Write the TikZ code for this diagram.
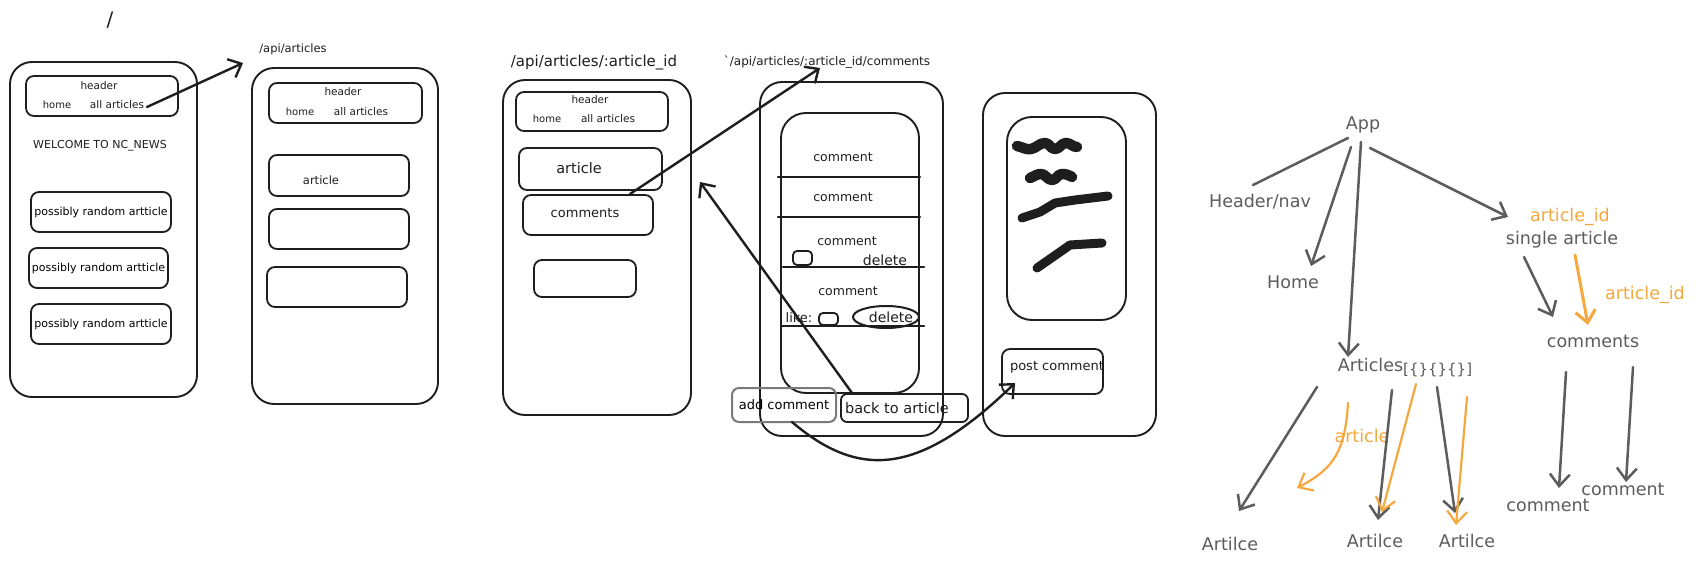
\documentclass[tikz,border=0pt]{standalone}
\usepackage{fontspec}
\setmainfont{DejaVu Sans}
\usetikzlibrary{arrows.meta}
\definecolor{ink}{HTML}{1E1E1E}
\definecolor{tg}{HTML}{5C5C5C}
\definecolor{org}{HTML}{F4A83E}
\definecolor{boxgray}{HTML}{7A7A7A}
\newcommand\fsz[1]{\fontsize{#1}{#1}\selectfont}
\begin{document}
\begin{tikzpicture}[x=1pt,y=-1pt,line cap=round,line join=round,
  phone/.style={draw=ink,line width=1.9,rounded corners=22,inner sep=0},
  box/.style={draw=ink,line width=1.8,rounded corners=8,inner sep=0},
  lbl/.style={text=ink,inner sep=0},
  tl/.style={text=tg,inner sep=0,font=\fsz{17.5}},
  ol/.style={text=org,inner sep=0,font=\fsz{17.5}},
  arr/.style={draw=ink,line width=2.4,-{Straight Barb[length=11pt,width=20pt]}},
  tarr/.style={draw=tg,line width=2.5,-{Straight Barb[length=12pt,width=20pt]}},
  tline/.style={draw=tg,line width=2.5},
  oarr/.style={draw=org,line width=2.2,-{Straight Barb[length=12pt,width=20pt]}},
  scrib/.style={draw=ink,line width=10.5,line cap=round,line join=round}]
\useasboundingbox[fill=white] (0,0) rectangle (1708,567);

% ---------- page 1: /
\node[lbl,font=\fsz{20}] (route1) at (110,20) {/};
\node[phone,minimum width=187,minimum height=335] (p1) at (103.5,229.5) {};
\node[box,minimum width=152,minimum height=40] (h1) at (102,96) {};
\node[lbl,font=\fsz{10.5}] (h1t) at (99,86) {header};
\node[lbl,font=\fsz{10}] (h1home) at (57,105) {home};
\node[lbl,font=\fsz{10.5}] (h1all) at (117,105) {all articles};
\node[lbl,font=\fsz{11}] (welcome) at (100,146) {WELCOME TO NC\_NEWS};
\node[box,minimum width=140,minimum height=40,font=\fsz{11}] (r1) at (101,212) {possibly random artticle};
\node[box,minimum width=139,minimum height=40,font=\fsz{11}] (r2) at (98.5,268) {possibly random artticle};
\node[box,minimum width=140,minimum height=40,font=\fsz{11}] (r3) at (101,324) {possibly random artticle};

% ---------- page 2: /api/articles
\node[lbl,font=\fsz{11.5}] (route2) at (293,49) {/api/articles};
\node[phone,minimum width=186,minimum height=336] (p2) at (345,236) {};
\node[box,minimum width=153,minimum height=40] (h2) at (345.5,103) {};
\node[lbl,font=\fsz{10.5}] (h2t) at (343,92) {header};
\node[lbl,font=\fsz{10}] (h2home) at (300,112) {home};
\node[lbl,font=\fsz{10.5}] (h2all) at (361,112) {all articles};
\node[box,minimum width=140,minimum height=41] (a2) at (339,175.5) {};
\node[lbl,font=\fsz{11.5}] (a2t) at (321,180) {article};
\node[box,minimum width=140,minimum height=40] (b2) at (339,229) {};
\node[box,minimum width=140,minimum height=40] (c2) at (337,287) {};

% ---------- page 3: /api/articles/:article_id
\node[lbl,font=\fsz{15}] (route3) at (594,63) {/api/articles/:article\_id};
\node[phone,minimum width=188,minimum height=335] (p3) at (597,247.5) {};
\node[box,minimum width=152,minimum height=39] (h3) at (592,111.5) {};
\node[lbl,font=\fsz{10.5}] (h3t) at (590,100) {header};
\node[lbl,font=\fsz{10}] (h3home) at (547,119) {home};
\node[lbl,font=\fsz{10.5}] (h3all) at (608,119) {all articles};
\node[box,minimum width=143,minimum height=42] (a3) at (590.5,169) {};
\node[lbl,font=\fsz{14.5}] (a3t) at (579,168) {article};
\node[box,minimum width=130,minimum height=40] (cm3) at (588,215) {};
\node[lbl,font=\fsz{13}] (cm3t) at (585,213) {comments};
\node[box,minimum width=102,minimum height=37] (e3) at (585,278.5) {};

% ---------- page 4: comments
\node[lbl,font=\fsz{12}] (route4) at (827,62) {\textasciigrave/api/articles/:article\_id/comments};
\node[phone,minimum width=183,minimum height=354] (p4) at (851.5,259) {};
\node[phone,rounded corners=25,minimum width=138,minimum height=280] (in4) at (850,253) {};
\coordinate (l1a) at (778,177); \coordinate (l1b) at (920,177);
\coordinate (l2a) at (778,217); \coordinate (l2b) at (920,217);
\coordinate (l3a) at (783,267); \coordinate (l3b) at (924,267);
\coordinate (l4a) at (782,326); \coordinate (l4b) at (924,326);
\draw[ink,line width=2.2] (l1a) -- (l1b);
\draw[ink,line width=2.2] (l2a) -- (l2b);
\draw[ink,line width=2.2] (l3a) -- (l3b);
\draw[ink,line width=2.2] (l4a) -- (l4b);
\node[lbl,font=\fsz{12.5}] (c41) at (843,157) {comment};
\node[lbl,font=\fsz{12.5}] (c42) at (843,197) {comment};
\node[lbl,font=\fsz{12.5}] (c43) at (847,241) {comment};
\node[lbl,font=\fsz{12.5}] (c44) at (848,291) {comment};
\node[box,rounded corners=4,minimum width=19,minimum height=14] (cb1) at (802.5,258) {};
\node[lbl,font=\fsz{14}] (del1) at (885,260) {delete};
\node[lbl,font=\fsz{13}] (like) at (799,318) {like:};
\node[box,rounded corners=4,minimum width=19,minimum height=12] (cb2) at (828.5,319) {};
\draw[ink,line width=2] (886,317) ellipse [x radius=33,y radius=11];
\node[lbl,font=\fsz{14}] (del2) at (891,317) {delete};
\node[draw=boxgray,line width=2,rounded corners=7,minimum width=104,minimum height=34,inner sep=0,font=\fsz{13}] (add) at (784,405) {add comment};
\node[box,rounded corners=6,minimum width=127,minimum height=28] (back) at (904.5,408) {};
\node[lbl,font=\fsz{14.5}] (backt) at (897,408) {back to article};

% ---------- page 5: post comment
\node[phone,minimum width=173,minimum height=343] (p5) at (1069.5,264.5) {};
\node[phone,rounded corners=25,minimum width=119,minimum height=203] (in5) at (1066.5,218.5) {};
\draw[scrib] (1017,146) to[out=-10,in=190] (1031,149) to[out=10,in=180] (1045,143) to[out=0,in=180] (1055,149) to[out=0,in=180] (1066,143) to[out=0,in=180] (1077,147);
\draw[scrib] (1030,178) to[out=20,in=180] (1041,174) to[out=0,in=180] (1052,180) to[out=0,in=180] (1062,174) to[out=0,in=150] (1072,177);
\draw[scrib,line width=9] (1022,218) -- (1040,212) -- (1055,203) -- (1075,200) -- (1108,196);
\draw[scrib,line width=9] (1037,268) -- (1070,245) -- (1102,243);
\node[box,minimum width=101,minimum height=45] (post) at (1052.5,371.5) {};
\node[lbl,font=\fsz{13}] (postt) at (1057,367) {post comment};

% ---------- page connectors
\coordinate (s1) at (147,107); \coordinate (e1) at (243,63);
\draw[arr] (s1) -- (e1);
\coordinate (s2) at (630,194); \coordinate (e2) at (820,68);
\draw[arr] (s2) -- (e2);
\coordinate (s3) at (852,393); \coordinate (e3b) at (700,182);
\draw[arr] (s3) -- (e3b);
\coordinate (s4) at (792,422); \coordinate (e4) at (1015,383);
\draw[arr] (s4) .. controls (860,480) and (920,475) .. (e4);

% ---------- component tree
\node[tl] (app) at (1363,125) {App};
\node[tl] (hnav) at (1260,202) {Header/nav};
\node[tl] (home) at (1293,282) {Home};
\node[tl] (arts) at (1405,368) {Articles\raisebox{-3pt}{\fsz{15}[\{\}\{\}\{\}]}};
\node[ol] (aid1) at (1570,217) {article\_id};
\node[tl] (single) at (1562,240) {single article};
\node[ol] (aid2) at (1645,295) {article\_id};
\node[tl] (cmts) at (1593,341) {comments};
\node[tl] (cmt1) at (1548,505) {comment};
\node[tl] (cmt2) at (1623,489) {comment};
\node[tl] (art1) at (1230,544) {Artilce};
\node[tl] (art2) at (1375,541) {Artilce};
\node[tl] (art3) at (1467,541) {Artilce};
\node[ol] (artl) at (1362,436) {article};

\coordinate (t1a) at (1348,138); \coordinate (t1b) at (1253,185);
\draw[tline] (t1a) -- (t1b);
\coordinate (t2a) at (1351,147); \coordinate (t2b) at (1311,266);
\draw[tarr] (t2a) -- (t2b);
\coordinate (t3a) at (1361,142); \coordinate (t3b) at (1348,357);
\draw[tarr] (t3a) -- (t3b);
\coordinate (t4a) at (1370,148); \coordinate (t4b) at (1508,217);
\draw[tarr] (t4a) -- (t4b);
\coordinate (t5a) at (1524,257); \coordinate (t5b) at (1553,317);
\draw[tarr] (t5a) -- (t5b);
\coordinate (t6a) at (1575,255); \coordinate (t6b) at (1588,325);
\draw[oarr,line width=3] (t6a) -- (t6b);
\coordinate (t7a) at (1566,372); \coordinate (t7b) at (1559,488);
\draw[tarr] (t7a) -- (t7b);
\coordinate (t8a) at (1633,367); \coordinate (t8b) at (1626,482);
\draw[tarr] (t8a) -- (t8b);
\coordinate (t9a) at (1317,387); \coordinate (t9b) at (1239,511);
\draw[tarr] (t9a) -- (t9b);
\coordinate (t10a) at (1348,403); \coordinate (t10b) at (1297,488);
\draw[oarr] (t10a) .. controls (1345,450) and (1335,468) .. (t10b);
\coordinate (t11a) at (1392,390); \coordinate (t11b) at (1378,520);
\draw[tarr] (t11a) -- (t11b);
\coordinate (t12a) at (1416,384); \coordinate (t12b) at (1382,512);
\draw[oarr] (t12a) -- (t12b);
\coordinate (t13a) at (1437,387); \coordinate (t13b) at (1455,513);
\draw[tarr] (t13a) -- (t13b);
\coordinate (t14a) at (1467,397); \coordinate (t14b) at (1456,525);
\draw[oarr] (t14a) -- (t14b);
\end{tikzpicture}
\end{document}
